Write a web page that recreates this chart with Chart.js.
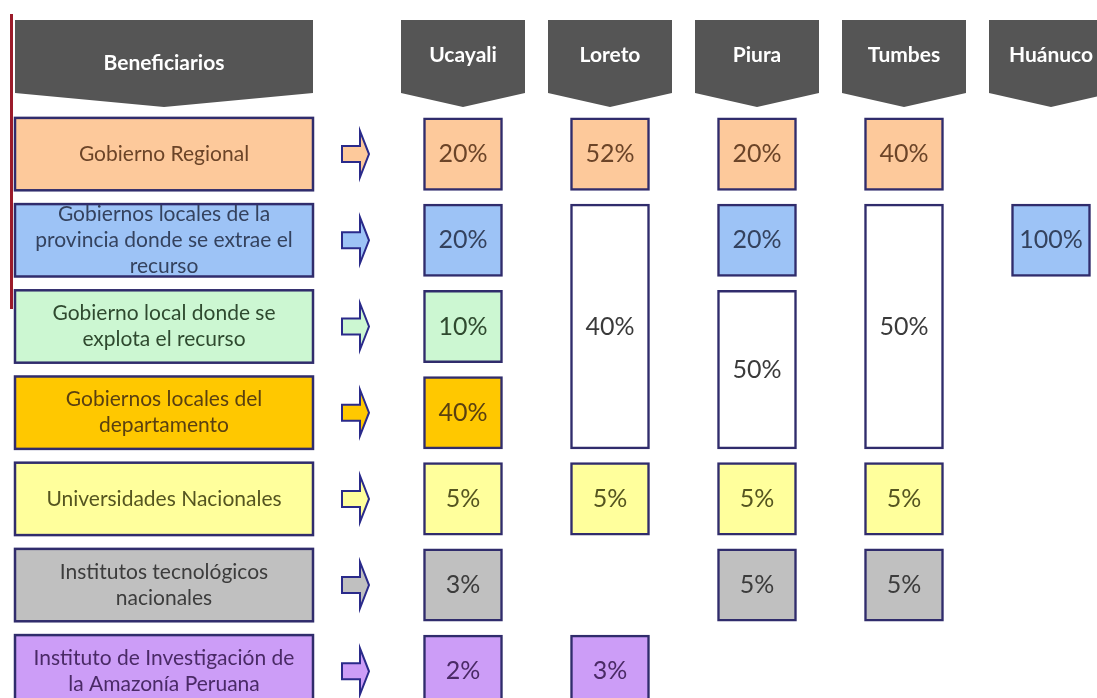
<!DOCTYPE html>
<html>
<head>
<meta charset="utf-8">
<script src="https://cdn.jsdelivr.net/npm/chart.js@4.4.1/dist/chart.umd.min.js"></script>
<style>
    html, body { margin: 0; padding: 0; background: #fff; }
    #wrap { width: 1097px; height: 698px; position: relative; }
</style>
</head>
<body>
<div id="wrap"><canvas id="canonChart"></canvas></div>
<script>
const states = ['Ucayali', 'Loreto', 'Piura', 'Tumbes', 'Huánuco'];
const beneficiarios = [
    ['Gobierno Regional'],
    ['Gobiernos locales de la', 'provincia donde se extrae el', 'recurso'],
    ['Gobierno local donde se', 'explota el recurso'],
    ['Gobiernos locales del', 'departamento'],
    ['Universidades Nacionales'],
    ['Institutos tecnológicos', 'nacionales'],
    ['Instituto de Investigación de', 'la Amazonía Peruana']
];

// % que recibe cada beneficiario (null = no recibe)
const ucayali = [20, 20, 10, 40, 5, 3, 2];
const loreto = [52, 40, null, null, 5, null, 3];
const piura = [20, 20, 50, null, 5, 5, null];
const tumbes = [40, 50, null, null, 5, 5, null];
const huanuco = [null, 100, null, null, null, null, null];

// cuantas filas cubre cada porcentaje (celdas combinadas)
const loretoSpan = [1, 3, 0, 0, 1, 0, 1];
const piuraSpan = [1, 1, 2, 0, 1, 1, 0];
const tumbesSpan = [1, 3, 0, 0, 1, 1, 0];

const rowColors = ['#fdc99b', '#9dc3f6', '#ccf7d2', '#ffc800', '#ffff9c', '#c0c0c0', '#cc9df7'];
const textColors = ['#6b4428', '#34425e', '#2f4a2f', '#5a4010', '#555520', '#3c3c3c', '#4a2a66'];
const BORDER = '#302c6c';
const HALF = 0.42;

const shares = [ucayali, loreto, piura, tumbes, huanuco];
const spans = [null, loretoSpan, piuraSpan, tumbesSpan, null];

const cells = [];
const cellFill = [];
const cellInk = [];
shares.forEach((arr, si) => {
    arr.forEach((v, r) => {
        if (v === null) return;
        const span = spans[si] ? spans[si][r] : 1;
        cells.push({ x: states[si], y: [r - HALF, r + span - 1 + HALF], v: v });
        cellFill.push(span > 1 ? '#ffffff' : rowColors[r]);
        cellInk.push(span > 1 ? '#3a3a3a' : textColors[r]);
    });
});

function header(ctx, cx, w, text, textY) {
    const top = 20, side = 93, tip = 107;
    ctx.beginPath();
    ctx.moveTo(cx - w / 2, top);
    ctx.lineTo(cx + w / 2, top);
    ctx.lineTo(cx + w / 2, side);
    ctx.lineTo(cx, tip);
    ctx.lineTo(cx - w / 2, side);
    ctx.closePath();
    ctx.fillStyle = '#555555';
    ctx.fill();
    ctx.fillStyle = '#ffffff';
    ctx.font = 'bold 21px Lato';
    ctx.textAlign = 'center';
    ctx.textBaseline = 'middle';
    ctx.fillText(text, cx, textY);
}

const tablePlugin = {
    id: 'tabla',
    beforeDatasetsDraw(chart) {
        const ctx = chart.ctx;
        const x = chart.scales.x;
        const y = chart.scales.y;
        ctx.save();

        // linea roja del borde
        ctx.fillStyle = '#9b1b2a';
        ctx.fillRect(10, 14, 3, 295);

        header(ctx, 164, 298, 'Beneficiarios', 63);
        states.forEach((s, i) => header(ctx, x.getPixelForValue(i), 124, s, 55));

        beneficiarios.forEach((lines, r) => {
            const top = y.getPixelForValue(r - HALF);
            const bot = y.getPixelForValue(r + HALF);
            ctx.fillStyle = rowColors[r];
            ctx.fillRect(15, top, 298, bot - top);
            ctx.lineWidth = 2.5;
            ctx.strokeStyle = BORDER;
            ctx.strokeRect(15, top, 298, bot - top);

            ctx.fillStyle = textColors[r];
            ctx.font = '21px Lato';
            ctx.textAlign = 'center';
            ctx.textBaseline = 'middle';
            const mid = (top + bot) / 2;
            lines.forEach((t, k) => {
                ctx.fillText(t, 164, mid + (k - (lines.length - 1) / 2) * 26);
            });

            // flecha
            const cy = y.getPixelForValue(r);
            ctx.beginPath();
            ctx.moveTo(342, cy - 8);
            ctx.lineTo(360, cy - 8);
            ctx.lineTo(360, cy - 23);
            ctx.lineTo(369, cy);
            ctx.lineTo(360, cy + 23);
            ctx.lineTo(360, cy + 8);
            ctx.lineTo(342, cy + 8);
            ctx.closePath();
            ctx.fillStyle = rowColors[r];
            ctx.fill();
            ctx.lineWidth = 2;
            ctx.strokeStyle = '#2a2a8a';
            ctx.stroke();
        });
        ctx.restore();
    },
    afterDatasetsDraw(chart) {
        const ctx = chart.ctx;
        const meta = chart.getDatasetMeta(0);
        ctx.save();
        ctx.font = '25px Lato';
        ctx.textAlign = 'center';
        ctx.textBaseline = 'middle';
        meta.data.forEach((bar, i) => {
            const p = bar.getProps(['x', 'y', 'base'], true);
            ctx.fillStyle = cellInk[i];
            ctx.fillText(cells[i].v + '%', p.x, (p.y + p.base) / 2);
        });
        ctx.restore();
    }
};

const ctx = document.getElementById('canonChart').getContext('2d');
const canonChart = new Chart(ctx, {
    type: 'bar',
    data: {
        labels: states,
        datasets: [{
            data: cells,
            backgroundColor: cellFill,
            borderColor: BORDER,
            borderWidth: 2.5,
            borderSkipped: false,
            barThickness: 79,
            clip: false
        }]
    },
    options: {
        responsive: true,
        maintainAspectRatio: false,
        animation: false,
        events: [],
        layout: {
            padding: { left: 463, right: 46, top: 111, bottom: 0 }
        },
        plugins: {
            legend: { display: false },
            tooltip: { enabled: false }
        },
        scales: {
            x: {
                type: 'category',
                offset: false,
                display: false
            },
            y: {
                type: 'linear',
                reverse: true,
                min: -0.5,
                max: 6.31,
                display: false
            }
        }
    },
    plugins: [tablePlugin]
});
</script>
</body>
</html>
